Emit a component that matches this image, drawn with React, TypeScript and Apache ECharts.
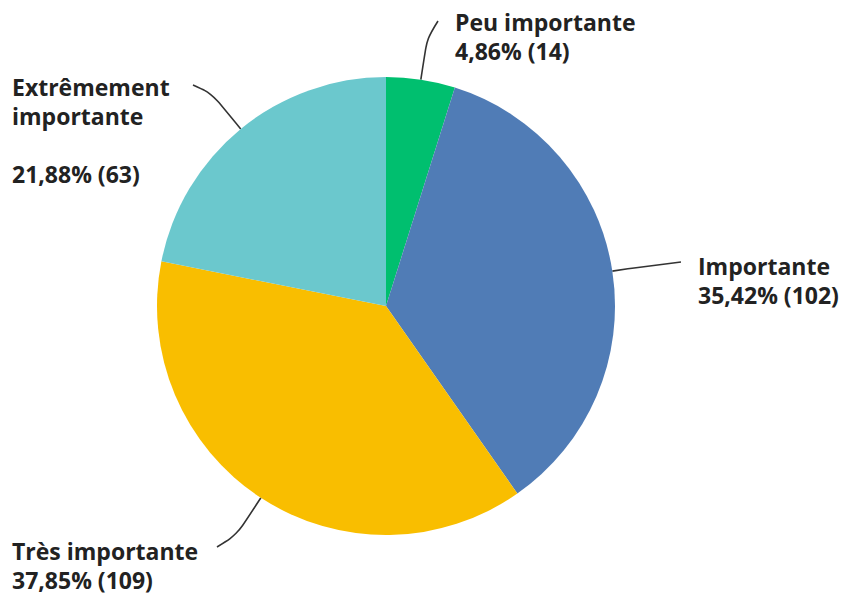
import React, { useEffect, useRef } from "react";
import * as echarts from "echarts";

const categories = ["Peu importante", "Importante", "Très importante", "Extrêmement importante"];
const counts = [14, 102, 109, 63];
const labelNames = ["Peu importante", "Importante", "Très importante", "Extrêmement\nimportante\n"];
const colors = ["#00BF6F", "#507CB6", "#F9BE00", "#6BC8CD"];

const CX = 386;
const CY = 306;
const R = 229;

// label placement (layout only)
const labelBoxes = [
  { x: 455, y: 7, endX: 438, endY: 21, len: 42 },
  { x: 698, y: 251, endX: 681, endY: 262, len: 20 },
  { x: 12, y: 536, endX: 217, endY: 547, len: 44 },
  { x: 12, y: 72, endX: 193, endY: 85, len: 46 },
];

export default function App() {
  const ref = useRef<HTMLDivElement>(null);
  useEffect(() => {
    if (!ref.current) return;
    const chart = echarts.init(ref.current, null, { renderer: "svg" });
    const total = counts.reduce((a, b) => a + b, 0);
    const mids: number[] = [];
    let cum = 0;
    counts.forEach((v) => {
      mids.push(((cum + v / 2) / total) * Math.PI * 2);
      cum += v;
    });
    const fmtPct = (v: number) => (Math.round((v / total) * 10000) / 100).toFixed(2).replace(".", ",");
    chart.setOption({
      animation: false,
      backgroundColor: "#ffffff",
      series: [
        {
          type: "pie",
          center: [CX, CY],
          radius: R,
          startAngle: 90,
          clockwise: true,
          avoidLabelOverlap: false,
          silent: true,
          emphasis: { disabled: true },
          data: categories.map((name, i) => ({
            name,
            value: counts[i],
            itemStyle: { color: colors[i] },
          })),
          itemStyle: { borderWidth: 0 },
          label: {
            show: true,
            position: "outside",
            overflow: "none",
            formatter: (p: any) => `${labelNames[p.dataIndex]}\n${fmtPct(p.value)}% (${p.value})`,
            color: "#222222",
            fontFamily: "Open Sans",
            fontWeight: 700,
            fontSize: 23,
            lineHeight: 29,
          },
          labelLine: {
            show: true,
            length: 8,
            length2: 8,
            smooth: 0.3,
            lineStyle: { color: "#333333", width: 1.6 },
          },
          labelLayout: (params: any) => {
            const i = params.dataIndex;
            const b = labelBoxes[i];
            const a = mids[i];
            const dx = Math.sin(a);
            const dy = -Math.cos(a);
            const sx = CX + R * dx;
            const sy = CY + R * dy;
            const mx = sx + b.len * dx;
            const my = sy + b.len * dy;
            return {
              x: b.x,
              y: b.y,
              align: "left",
              verticalAlign: "top",
              labelLinePoints: [
                [sx, sy],
                [mx, my],
                [b.endX, b.endY],
              ],
            };
          },
        },
      ],
    });
    return () => chart.dispose();
  }, []);
  return (
    <div
      ref={ref}
      style={{ position: "absolute", left: 0, top: 0, width: 848, height: 594, background: "#fff" }}
    />
  );
}
